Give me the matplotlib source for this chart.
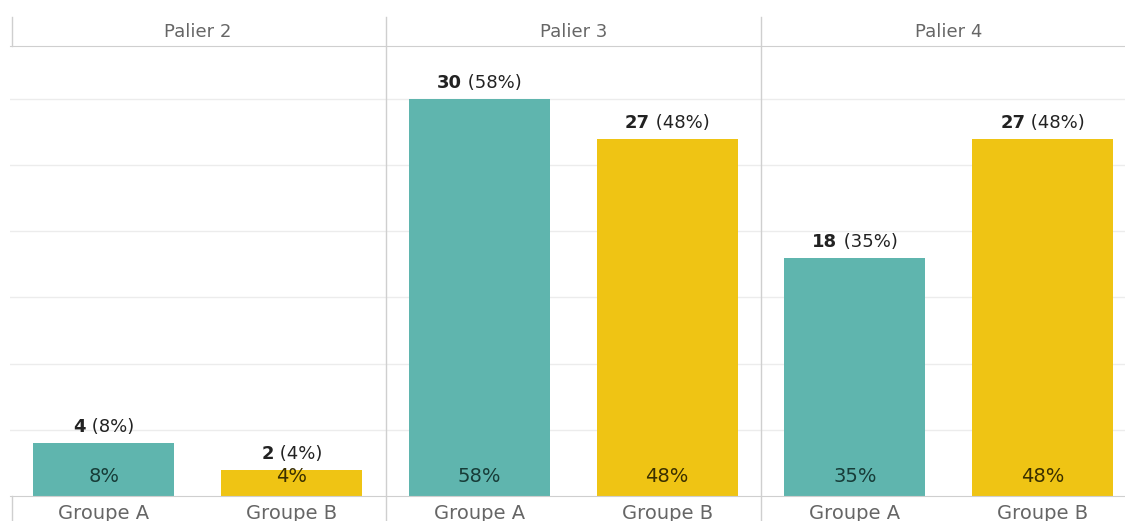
import matplotlib
matplotlib.use("Agg")
import matplotlib.pyplot as plt
from matplotlib.lines import Line2D
import numpy as np

paliers = ["Palier 2", "Palier 3", "Palier 4"]
groupes = ["Groupe A", "Groupe B"]
counts = [[4, 2], [30, 27], [18, 27]]
pcts = [[8, 4], [58, 48], [35, 48]]

colors = ["#5fb5ae", "#efc414"]
inner_colors = ["#173c38", "#3a2f00"]
grid_c = "#ececec"
line_c = "#cfcfcf"

plt.rcParams["font.family"] = ["DejaVu Sans"]

W, H = 1125, 521
fig = plt.figure(figsize=(W / 100, H / 100), dpi=100)

x0 = 10
pw = 375.5
y_top = 46
y_base = 496

axes = []
for i, pal in enumerate(paliers):
    ax = fig.add_axes([(x0 + pw * i) / W, (H - y_base) / H, pw / W, (y_base - y_top) / H])
    axes.append(ax)
    x = np.arange(len(groupes))
    ax.bar(x, counts[i], width=0.75, color=colors, zorder=2)
    ax.set_xlim(-0.5, 1.5)
    ax.set_ylim(0, 34)
    ax.set_yticks(np.arange(5, 31, 5))
    ax.yaxis.grid(True, color=grid_c, linewidth=1, zorder=0)
    ax.tick_params(axis="y", left=False, labelleft=False)
    ax.set_xticks(x)
    ax.set_xticklabels(groupes, fontsize=14, color="#666666")
    ax.tick_params(axis="x", length=0, pad=5.5)
    for s in ["left", "right"]:
        ax.spines[s].set_visible(False)
    ax.spines["top"].set_color(line_c)
    ax.spines["bottom"].set_color(line_c)
    ax.set_facecolor("none")
    # header
    fig.text((x0 + pw * i + pw / 2) / W, 1 - 32 / H, pal, ha="center", va="center",
             fontsize=13, color="#666666")
    # labels inside bars
    for j in range(len(groupes)):
        ax.annotate(f"{pcts[i][j]}%", (x[j], 0), xytext=(0, 20), textcoords="offset pixels",
                    ha="center", va="center", fontsize=14, color=inner_colors[j], zorder=3)

# separators
for k in range(len(paliers) + 1):
    xp = (x0 + 2 + pw * k) / W if k == 0 else (x0 + pw * k) / W
    if k == 0:
        fig.add_artist(Line2D([xp, xp], [1 - 17 / H, 1 - y_top / H], color=line_c, lw=1))
        fig.add_artist(Line2D([xp, xp], [1 - y_base / H, 0], color=line_c, lw=1))
    else:
        fig.add_artist(Line2D([xp, xp], [1 - 17 / H, 0], color=line_c, lw=1))

# value labels above bars: bold count + regular percent
fig.canvas.draw()
renderer = fig.canvas.get_renderer()
for i, ax in enumerate(axes):
    for j in range(len(groupes)):
        t1 = ax.annotate(f"{counts[i][j]}", (j, counts[i][j]), xytext=(0, 7),
                         textcoords="offset pixels", ha="left", va="bottom",
                         fontsize=13, fontweight="bold", color="#222222")
        t2 = ax.annotate(f" ({pcts[i][j]}%)", (j, counts[i][j]), xytext=(0, 7),
                         textcoords="offset pixels", ha="left", va="bottom",
                         fontsize=13, color="#222222")
        w1 = t1.get_window_extent(renderer).width
        w2 = t2.get_window_extent(renderer).width
        start = -(w1 + w2) / 2
        t1.set_position((start, 7))
        t2.set_position((start + w1, 7))

fig.savefig("out.png", dpi=100)
